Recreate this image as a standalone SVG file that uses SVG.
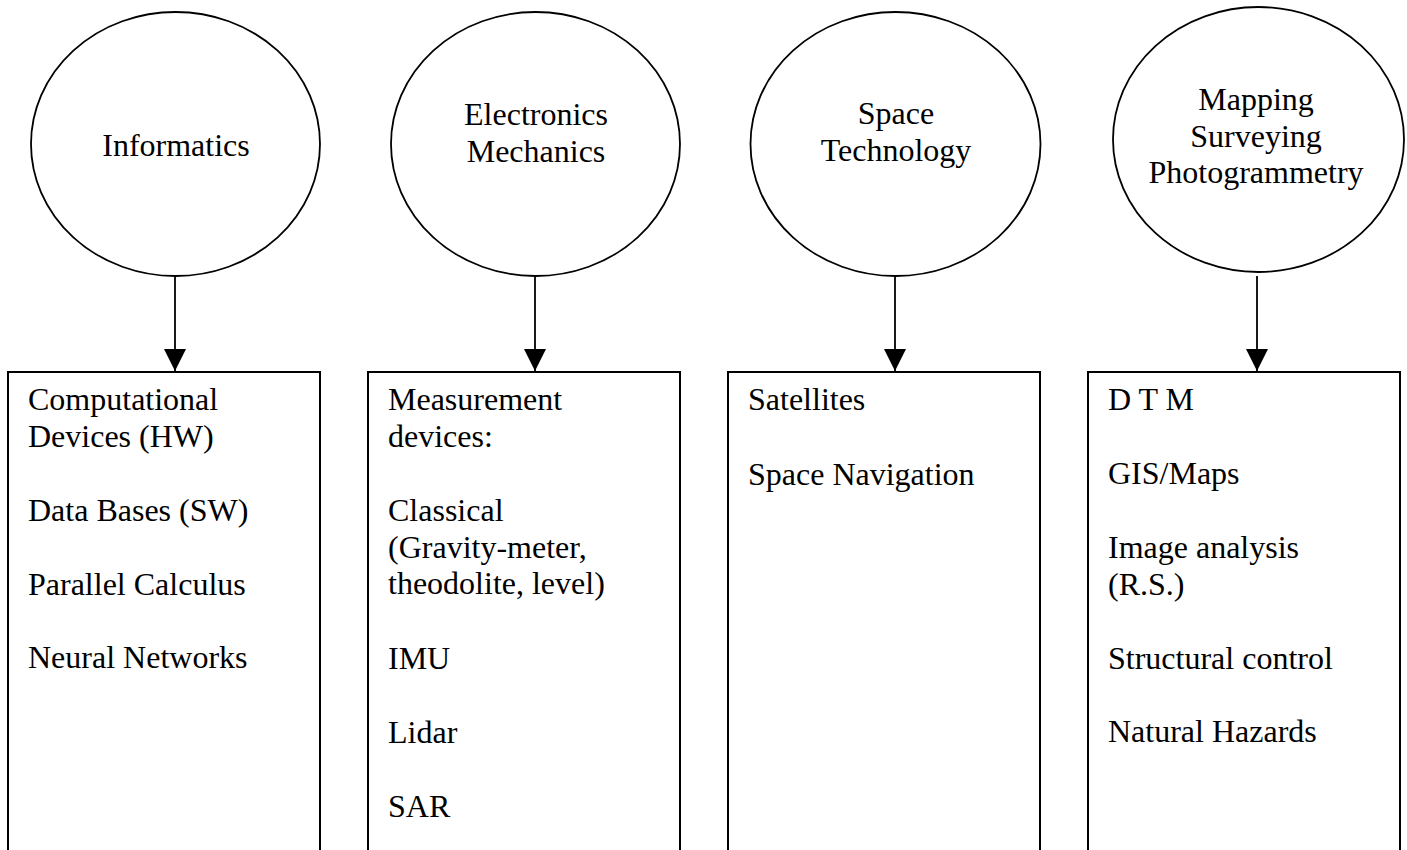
<svg xmlns="http://www.w3.org/2000/svg" width="1407" height="850" viewBox="0 0 1407 850">
<style>
.c{fill:#fff;stroke:#000;stroke-width:1.8}
.b{fill:#fff;stroke:#000;stroke-width:2}
.t{font-family:"Liberation Serif","Times New Roman",serif;font-size:32px;fill:#000}
.m{text-anchor:middle}
.e{stroke:#000;stroke-width:1.8;fill:none}
</style>
<defs>
<marker id="ah" markerUnits="userSpaceOnUse" markerWidth="22" markerHeight="22" viewBox="0 0 20 20" refX="20" refY="10" orient="auto">
<path d="M0,0 L20,10 L0,20 Z" fill="#000"/>
</marker>
</defs>
<rect width="1407" height="850" fill="#fff"/>
<g id="n1">
<ellipse class="c" cx="175.5" cy="144" rx="144.5" ry="132"/>
<text class="t m" x="176" y="156">Informatics</text>
</g>
<g id="n2">
<ellipse class="c" cx="535.5" cy="144" rx="144.5" ry="132"/>
<text class="t m" x="536" y="125">Electronics</text>
<text class="t m" x="536" y="162">Mechanics</text>
</g>
<g id="n3">
<ellipse class="c" cx="895.5" cy="144" rx="145" ry="132"/>
<text class="t m" x="896" y="124">Space</text>
<text class="t m" x="896" y="161">Technology</text>
</g>
<g id="n4">
<ellipse class="c" cx="1258.5" cy="139.5" rx="145.5" ry="132.5"/>
<text class="t m" x="1256" y="110">Mapping</text>
<text class="t m" x="1256" y="147">Surveying</text>
<text class="t m" x="1256" y="183">Photogrammetry</text>
</g>
<g id="b1">
<rect class="b" x="8" y="372" width="312" height="500"/>
<text class="t" x="28" y="410">Computational</text>
<text class="t" x="28" y="447">Devices (HW)</text>
<text class="t" x="28" y="521">Data Bases (SW)</text>
<text class="t" x="28" y="595">Parallel Calculus</text>
<text class="t" x="28" y="668">Neural Networks</text>
</g>
<g id="b2">
<rect class="b" x="368" y="372" width="312" height="500"/>
<text class="t" x="388" y="410">Measurement</text>
<text class="t" x="388" y="447">devices:</text>
<text class="t" x="388" y="521">Classical</text>
<text class="t" x="388" y="558">(Gravity-meter,</text>
<text class="t" x="388" y="594">theodolite, level)</text>
<text class="t" x="388" y="669">IMU</text>
<text class="t" x="388" y="743">Lidar</text>
<text class="t" x="388" y="817">SAR</text>
</g>
<g id="b3">
<rect class="b" x="728" y="372" width="312" height="500"/>
<text class="t" x="748" y="410">Satellites</text>
<text class="t" x="748" y="485">Space Navigation</text>
</g>
<g id="b4">
<rect class="b" x="1088" y="372" width="312" height="500"/>
<text class="t" x="1108" y="410">D T M</text>
<text class="t" x="1108" y="484">GIS/Maps</text>
<text class="t" x="1108" y="558">Image analysis</text>
<text class="t" x="1108" y="595">(R.S.)</text>
<text class="t" x="1108" y="669">Structural control</text>
<text class="t" x="1108" y="742">Natural Hazards</text>
</g>
<g id="connectors">
<line class="e" x1="175" y1="276" x2="175" y2="371" marker-end="url(#ah)"/>
<line class="e" x1="535" y1="276" x2="535" y2="371" marker-end="url(#ah)"/>
<line class="e" x1="895" y1="276" x2="895" y2="371" marker-end="url(#ah)"/>
<line class="e" x1="1257" y1="276" x2="1257" y2="371" marker-end="url(#ah)"/>
</g>
</svg>
